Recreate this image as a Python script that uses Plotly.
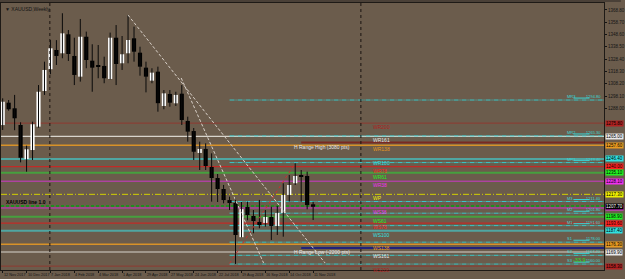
import plotly.graph_objects as go

# ---------------- data ----------------
dates = ["12 Nov 2017", "10 Dec 2017", "7 Jan 2018", "4 Feb 2018", "4 Mar 2018", "1 Apr 2018",
         "29 Apr 2018", "27 May 2018", "24 Jun 2018", "22 Jul 2018", "19 Aug 2018", "16 Sep 2018",
         "14 Oct 2018", "11 Nov 2018"]
date_bar_index = [0, 4, 8, 12, 16, 20, 24, 28, 32, 36, 40, 44, 48, 52]

opens = [1274.2, 1292.6, 1288.0, 1274.3, 1246.3, 1253.7, 1272.9, 1302.2, 1320.1, 1335.9,
         1333.2, 1348.8, 1331.0, 1314.0, 1346.8, 1327.1, 1322.6, 1322.8, 1312.1, 1346.0,
         1325.0, 1333.2, 1345.5, 1333.7, 1321.4, 1310.7, 1318.1, 1289.9, 1299.8, 1292.1,
         1300.0, 1277.6, 1269.3, 1251.3, 1254.6, 1239.8, 1230.7, 1221.7, 1212.6, 1210.2,
         1182.1, 1206.9, 1199.5, 1194.6, 1193.8, 1198.7, 1191.3, 1202.0, 1216.8, 1226.4,
         1232.6, 1232.4, 1209.1]
highs = [1296.2, 1294.8, 1299.0, 1276.5, 1257.3, 1277.0, 1307.1, 1326.3, 1344.1, 1344.0,
         1366.1, 1352.3, 1346.0, 1361.4, 1351.0, 1340.6, 1340.0, 1330.4, 1350.2, 1356.4,
         1347.4, 1364.7, 1355.1, 1338.6, 1326.3, 1320.9, 1322.2, 1303.0, 1303.0, 1301.6,
         1307.1, 1281.1, 1271.8, 1260.6, 1259.2, 1251.0, 1234.0, 1225.0, 1215.4, 1214.1,
         1211.0, 1211.3, 1204.4, 1212.7, 1204.4, 1207.1, 1207.7, 1226.4, 1233.2, 1242.8,
         1237.3, 1235.9, 1211.3]
lows = [1270.2, 1286.0, 1270.0, 1243.6, 1235.9, 1245.5, 1272.0, 1299.0, 1316.0, 1323.6,
        1329.1, 1326.9, 1307.1, 1309.9, 1320.9, 1301.6, 1312.7, 1308.6, 1311.8, 1307.1,
        1319.5, 1325.0, 1326.3, 1314.8, 1301.1, 1308.6, 1285.2, 1287.2, 1289.3, 1289.9,
        1274.3, 1260.6, 1245.5, 1237.3, 1237.3, 1211.3, 1211.0, 1209.9, 1204.4, 1160.1,
        1181.9, 1196.0, 1185.3, 1189.4, 1190.7, 1179.8, 1183.9, 1182.5, 1211.3, 1225.0,
        1211.3, 1205.0, 1196.2]
closes = [1293.4, 1287.2, 1279.8, 1247.4, 1254.3, 1274.9, 1301.6, 1319.5, 1337.3, 1331.0,
          1349.6, 1332.6, 1315.4, 1346.8, 1327.7, 1321.4, 1322.0, 1312.7, 1346.0, 1324.4,
          1332.4, 1344.1, 1334.5, 1322.2, 1314.0, 1317.3, 1292.2, 1300.3, 1292.6, 1299.0,
          1278.4, 1268.8, 1252.3, 1254.6, 1240.6, 1230.7, 1221.7, 1212.6, 1210.2, 1183.9,
          1205.1, 1200.3, 1195.4, 1192.1, 1198.7, 1191.3, 1202.0, 1216.8, 1225.0, 1232.4,
          1232.2, 1208.5, 1207.1]

price_ticks = [1368.8, 1358.7, 1348.6, 1338.5, 1328.4, 1318.3, 1308.2, 1298.1, 1288.0, 1277.9,
               1267.8, 1257.7, 1247.6, 1237.5, 1227.4, 1217.3, 1207.2, 1197.1, 1187.0, 1176.9,
               1166.8, 1156.7]

# weekly pivot levels (label, price)
level_names = ["WR200", "WR161", "WR138", "WR100", "WR78", "WR61", "WR38", "WP",
               "WS38", "WS61", "WS78", "WS100", "WS138", "WS161", "WS200"]
level_prices = [1275.8, 1265.0, 1257.6, 1246.4, 1240.0, 1235.1, 1228.1, 1217.3,
                1206.1, 1198.9, 1193.6, 1187.4, 1176.3, 1169.9, 1158.3]

# short pivot lines on the right side (label, price)
pivot_names = ["MR3", "MR2", "MR1", "M3", "M2", "M1", "S1", "S2", "S3"]
pivot_prices = [1294.8, 1265.3, 1243.4, 1211.4, 1201.8, 1191.6, 1178.0, 1167.2, 1160.0]

bid_price = 1207.7
range_high = 1259.8
range_low = 1173.3
spread_text = "-33.9"

# ---------------- styling ----------------
BG = "#6b5c4c"
level_colors = ["#8e3a30", "#d8d4cc", "#d89228", "#4fa6a2", "#c22a26", "#46a03e", "#cc38c8", "#d2d000",
                "#cc38c8", "#46a03e", "#c22a26", "#4fa6a2", "#d89228", "#d8d4cc", "#8e3a30"]
label_colors = ["#b02020", "#e8e8e8", "#e89a20", "#30e0e0", "#ff2020", "#20f020", "#f030f0", "#f0f000",
                "#f030f0", "#20f020", "#ff2020", "#30e0e0", "#e89a20", "#e8e8e8", "#b02020"]
level_widths = [1, 1.2, 1.5, 2, 1.2, 2, 1, 1, 1, 2, 1.2, 2, 1.5, 1.2, 1]
level_dash = ["solid"] * 7 + ["6px,2px,1px,2px"] + ["solid"] * 7
TXT = "Liberation Sans, Arial, sans-serif"

# pixel <-> axis calibration
y_lo, y_hi = 1155.13, 1374.52
x_lo, x_hi = -0.282, 100.72

fig = go.Figure()

# wicks
wx, wy = [], []
for i, (h, l) in enumerate(zip(highs, lows)):
    wx += [i, i, None]
    wy += [l, h, None]
fig.add_trace(go.Scatter(x=wx, y=wy, mode="lines", line=dict(color="#0a0a0a", width=1),
                         hoverinfo="skip", showlegend=False))

# bodies
up_x, up_b, up_h, dn_x, dn_b, dn_h = [], [], [], [], [], []
for i, (o, c) in enumerate(zip(opens, closes)):
    h = max(abs(c - o), 0.8)
    if c >= o:
        up_x.append(i); up_b.append(min(o, c)); up_h.append(h)
    else:
        dn_x.append(i); dn_b.append(min(o, c)); dn_h.append(h)
fig.add_trace(go.Bar(x=up_x, y=up_h, base=up_b, width=0.7, marker=dict(color="#ffffff", line=dict(width=0)),
                     showlegend=False, hoverinfo="skip"))
fig.add_trace(go.Bar(x=dn_x, y=dn_h, base=dn_b, width=0.7, marker=dict(color="#000000", line=dict(width=0)),
                     showlegend=False, hoverinfo="skip"))

shapes = []
annotations = []

# full-width weekly levels
for name, p, col, lc, w, d in zip(level_names, level_prices, level_colors, label_colors, level_widths, level_dash):
    shapes.append(dict(type="line", xref="paper", yref="y", x0=0, x1=1, y0=p, y1=p,
                       line=dict(color=col, width=w, dash=d), layer="below"))
    annotations.append(dict(x=61.7, y=p, xref="x", yref="y", text=name, showarrow=False,
                            xanchor="left", yanchor="top", yshift=1,
                            font=dict(size=5, color=lc, family=TXT)))
    annotations.append(dict(x=1.0, y=p, xref="paper", yref="y", text="%.2f" % p, showarrow=False,
                            xanchor="left", yanchor="middle", xshift=1, bgcolor=lc, borderpad=0,
                            font=dict(size=4.5, color="#000000", family=TXT)))

# bid line (green dashed)
shapes.append(dict(type="line", xref="paper", yref="y", x0=0, x1=1, y0=bid_price, y1=bid_price,
                   line=dict(color="#1f8f1f", width=2, dash="3px,2px"), layer="below"))
annotations.append(dict(x=1.0, y=bid_price, xref="paper", yref="y", text="%.2f" % bid_price, showarrow=False,
                        xanchor="left", yanchor="middle", xshift=1, bgcolor="#000000", borderpad=0,
                        font=dict(size=4.5, color="#ffffff", family=TXT)))

# pivot cyan lines on the right side: name at left, short connector, value at right
for name, p in zip(pivot_names, pivot_prices):
    shapes.append(dict(type="line", xref="x", yref="y", x0=38, x1=x_hi, y0=p, y1=p,
                       line=dict(color="#38c8c8", width=1, dash="5px,1px,1px,1px"), layer="below"))
    shapes.append(dict(type="line", xref="x", yref="y", x0=95.6, x1=98.3, y0=p + 1.6, y1=p + 1.6,
                       line=dict(color="#38d8d8", width=1)))
    annotations.append(dict(x=94.2, y=p, xref="x", yref="y", text=name,
                            showarrow=False, xanchor="left", yanchor="bottom", yshift=-1,
                            font=dict(size=4, color="#38d8d8", family=TXT)))
    annotations.append(dict(x=x_hi, y=p, xref="x", yref="y", text="%.2f" % p,
                            showarrow=False, xanchor="right", yanchor="bottom", yshift=-1, xshift=-1,
                            font=dict(size=4, color="#38d8d8", family=TXT)))

# H range lines
shapes.append(dict(type="line", xref="x", yref="y", x0=50, x1=x_hi, y0=range_high, y1=range_high,
                   line=dict(color="#7a2a22", width=2)))
shapes.append(dict(type="line", xref="x", yref="y", x0=50, x1=x_hi, y0=range_low, y1=range_low,
                   line=dict(color="#22227a", width=2)))
annotations.append(dict(x=48.5, y=range_high, xref="x", yref="y", text="H Range High (3080 pts)",
                        showarrow=False, xanchor="left", yanchor="top", yshift=1,
                        font=dict(size=5, color="#e8e8e8", family=TXT)))
annotations.append(dict(x=48.5, y=range_low, xref="x", yref="y", text="H Range Low (-2200 pts)",
                        showarrow=False, xanchor="left", yanchor="top", yshift=1,
                        font=dict(size=5, color="#e8e8e8", family=TXT)))

# trend lines
shapes.append(dict(type="line", xref="x", yref="y", x0=20.98, y0=1364.7, x1=54.0, y1=1160.9,
                   line=dict(color="#d8d0c8", width=1, dash="3px,2px")))
shapes.append(dict(type="line", xref="x", yref="y", x0=29.9, y0=1312.9, x1=43.7, y1=1160.9,
                   line=dict(color="#d8d0c8", width=1, dash="3px,2px")))
shapes.append(dict(type="line", xref="x", yref="y", x0=38.0, y0=1160.5, x1=49.0, y1=1242.8,
                   line=dict(color="#c83030", width=1, dash="dot")))

# period separators
for sx in [7.9, 60.0]:
    shapes.append(dict(type="line", xref="x", yref="paper", x0=sx, x1=sx, y0=0, y1=1,
                       line=dict(color="#1a1410", width=1, dash="dot")))

# top dark strip
shapes.append(dict(type="rect", xref="paper", yref="paper", x0=-0.01, x1=625 / 608, y0=1 + 1 / 267,
                   y1=1 + 3.5 / 267, fillcolor="#4a4037", line=dict(width=0)))

# date labels
for d, i in zip(dates, date_bar_index):
    annotations.append(dict(x=i, y=0, xref="x", yref="paper", text=d, showarrow=False,
                            xanchor="left", yanchor="top", xshift=-1, yshift=-1,
                            font=dict(size=3.8, color="#141414", family=TXT)))

# title + misc text
annotations.append(dict(x=0.004, y=1, xref="paper", yref="paper", text="▼ XAUUSD,Weekly", showarrow=False,
                        xanchor="left", yanchor="top", yshift=-1, font=dict(size=5, color="#141414", family=TXT)))
annotations.append(dict(x=0.3, y=bid_price, xref="x", yref="y", text="<b>XAUUSD line 1.0</b>", showarrow=False,
                        xanchor="left", yanchor="bottom", yshift=-1, font=dict(size=5, color="#000000", family=TXT)))
annotations.append(dict(x=95.3, y=1163.6, xref="x", yref="y", text=spread_text, showarrow=False,
                        xanchor="left", yanchor="middle", borderpad=0,
                        font=dict(size=5.5, color="#22e022", family=TXT)))

# tick labels hidden where a price tag covers them (as in the original)
tag_prices = level_prices + [bid_price]
shown_ticks = [t for t in price_ticks if min(abs(t - q) for q in tag_prices) > 4.6]

fig.update_layout(
    width=625, height=279,
    margin=dict(l=0, r=17, t=3, b=9),
    paper_bgcolor=BG, plot_bgcolor=BG,
    barmode="overlay", showlegend=False,
    shapes=shapes, annotations=annotations,
    xaxis=dict(range=[x_lo, x_hi], showgrid=False, zeroline=False, showticklabels=False,
               tickvals=date_bar_index, ticks="outside", ticklen=2, tickcolor="#141414",
               showline=True, linecolor="#1e1a16", linewidth=1, mirror=True),
    yaxis=dict(range=[y_lo, y_hi], side="right", showgrid=False, zeroline=False,
               tickvals=shown_ticks, ticktext=["%.2f" % t for t in shown_ticks],
               ticks="outside", ticklen=2, tickcolor="#141414",
               tickfont=dict(size=4.5, color="#141414", family=TXT),
               showline=True, linecolor="#1e1a16", linewidth=1, mirror=True),
)

fig.write_html("out.html", config={"displayModeBar": False})
